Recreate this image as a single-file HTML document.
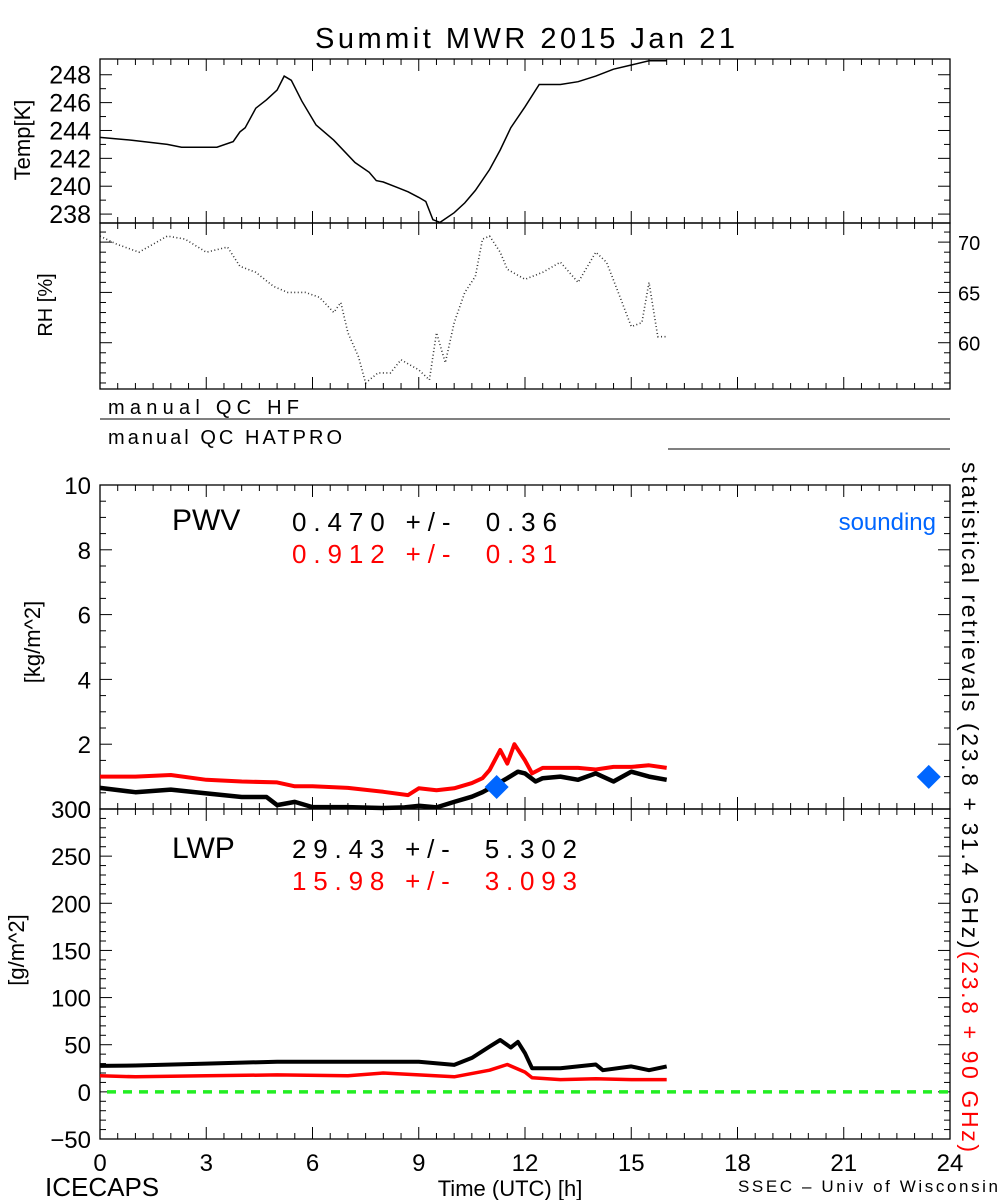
<!DOCTYPE html>
<html><head><meta charset="utf-8"><style>
html,body{margin:0;padding:0;background:#fff;}
svg{display:block;font-family:"Liberation Sans",sans-serif;}
</style></head><body>
<svg id="c" width="1000" height="1200" viewBox="0 0 1000 1200">
<text x="315" y="48" font-size="29" textLength="420" lengthAdjust="spacing">Summit MWR 2015 Jan 21</text>
<text x="108" y="414" font-size="20" textLength="191" lengthAdjust="spacing">manual QC HF</text>
<line x1="100" y1="419" x2="950" y2="419" stroke="#000"/>
<text x="108" y="444" font-size="20" textLength="234" lengthAdjust="spacing">manual QC HATPRO</text>
<line x1="668" y1="449" x2="950" y2="449" stroke="#000"/>
<text x="172" y="530" font-size="30">PWV</text>
<text x="292" y="531" font-size="26" textLength="265" lengthAdjust="spacing" style="white-space:pre">0.470 +/-  0.36</text>
<text x="292" y="563" font-size="26" fill="#f00" textLength="265" lengthAdjust="spacing" style="white-space:pre">0.912 +/-  0.31</text>
<text x="936" y="530" font-size="24" fill="#0066ff" text-anchor="end">sounding</text>
<text x="172" y="858" font-size="30">LWP</text>
<text x="292" y="858" font-size="26" textLength="285" lengthAdjust="spacing" style="white-space:pre">29.43 +/-  5.302</text>
<text x="292" y="890" font-size="26" fill="#f00" textLength="285" lengthAdjust="spacing" style="white-space:pre">15.98 +/-  3.093</text>
<text transform="translate(30,140) rotate(-90)" font-size="22" text-anchor="middle">Temp[K]</text>
<text transform="translate(52,305) rotate(-90)" font-size="20" text-anchor="middle">RH [%]</text>
<text transform="translate(40,642) rotate(-90)" font-size="22" text-anchor="middle">[kg/m^2]</text>
<text transform="translate(24,950) rotate(-90)" font-size="22" text-anchor="middle">[g/m^2]</text>
<text transform="translate(962,462) rotate(90)" font-size="23" textLength="690" lengthAdjust="spacing"><tspan>statistical retrievals (23.8 + 31.4 GHz)</tspan><tspan fill="#f00">(23.8 + 90 GHz)</tspan></text>
<text x="45" y="1196" font-size="26">ICECAPS</text>
<text x="510" y="1196" font-size="22" text-anchor="middle">Time (UTC) [h]</text>
<text x="738" y="1192" font-size="17" textLength="260" lengthAdjust="spacing">SSEC – Univ of Wisconsin</text>
</svg>
<script>
const tempT=[0,0.9,1.9,2.3,3.3,3.76,3.95,4.1,4.4,4.7,5.0,5.2,5.4,5.7,6.1,6.6,7.2,7.6,7.8,8.0,8.4,8.7,9.0,9.2,9.4,9.6,10,10.3,10.6,11,11.3,11.6,12,12.4,13,13.5,14,14.5,15,15.5,16];
const tempV=[243.5,243.3,243.0,242.8,242.8,243.2,243.9,244.2,245.6,246.2,246.9,247.9,247.6,246.1,244.4,243.3,241.7,241.0,240.4,240.3,239.9,239.6,239.2,238.9,237.6,237.4,238.1,238.8,239.7,241.2,242.6,244.2,245.7,247.3,247.3,247.5,247.9,248.4,248.7,249.0,249.0];
const rhT=[0,0.47,1.1,1.9,2.4,3,3.6,3.95,4.4,4.9,5.3,5.8,6.2,6.6,6.8,7.0,7.3,7.5,7.85,8.2,8.5,9,9.3,9.5,9.75,10,10.3,10.6,10.8,11,11.3,11.5,12,12.5,13,13.5,14,14.3,14.6,15,15.3,15.5,15.75,16];
const rhV=[70.6,69.8,69,70.6,70.3,69,69.5,67.6,67,65.6,65,65,64.5,63,64,61,58.6,56,57,57,58.3,57.3,56.3,61,58,62,65,66.6,70.3,70.6,69,67.3,66.3,67,68,66,69,68,65.3,61.6,62,66,60.6,60.6];
const pwvT=[0,1,2,3,4,4.7,5,5.5,6,7,8,8.6,9,9.5,10,10.5,10.8,11,11.5,11.8,12,12.3,12.5,13,13.5,14,14.5,15,15.5,16];
const pwvBlack=[0.65,0.52,0.6,0.48,0.37,0.37,0.12,0.22,0.06,0.06,0.03,0.05,0.1,0.05,0.22,0.38,0.52,0.64,0.95,1.15,1.1,0.85,0.95,1.0,0.9,1.1,0.85,1.15,1.0,0.9];
const pwvRedT=[0,1,2,3,4,5,5.5,6,7,8,8.7,9,9.5,10,10.5,10.8,11,11.3,11.5,11.7,12,12.2,12.5,13,13.5,14,14.5,15,15.5,16];
const pwvRed=[1.0,1.0,1.05,0.9,0.85,0.82,0.7,0.7,0.65,0.53,0.43,0.64,0.58,0.64,0.8,0.95,1.2,1.82,1.4,2.0,1.5,1.1,1.27,1.27,1.27,1.22,1.3,1.3,1.35,1.27];
const soundT=[11.2,23.4];
const soundV=[0.68,0.99];
const lwpT=[0,1,3,5,7,8,9,10,10.5,11,11.3,11.6,11.8,12,12.2,13,14,14.2,15,15.5,16];
const lwpBlack=[27.5,28,30,32,32,32,32,28.6,36,48,55,47,53,41,25,25,29,23,27,23,27];
const lwpRedT=[0,1,3,5,7,8,9,10,11,11.5,12,12.2,13,14,15,16];
const lwpRed=[17,16,17,18,17,20,18,16,23,29,21,15,13,14,13,13];
const tempTicks=[238,240,242,244,246,248];
const rhTicks=[60,65,70];
const pwvTicks=[0,2,4,6,8,10];
const lwpTicks=[-50,0,50,100,150,200,250,300];
const timeTicks=[0,3,6,9,12,15,18,21,24];

const svg=document.getElementById('c');
const NS='http://www.w3.org/2000/svg';
const X0=100,X1=950;
const xs=t=>X0+(t/24)*(X1-X0);
function lin(d0,d1,p0,p1){return v=>p0+(v-d0)/(d1-d0)*(p1-p0);}
const P={
 temp:{top:59,bot:223,y:lin(237.36,249.13,223,59)},
 rh:{top:223,bot:389,y:lin(55.4,71.9,389,223)},
 pwv:{top:485,bot:809,y:lin(0,10,809,485)},
 lwp:{top:809,bot:1139,y:lin(-50,300,1139,809)}
};
function mk(tag,attrs){const e=document.createElementNS(NS,tag);for(const k in attrs)e.setAttribute(k,attrs[k]);svg.appendChild(e);return e;}
function pathOf(T,V,y){return T.map((t,i)=>(i?'L':'M')+xs(t).toFixed(1)+' '+y(V[i]).toFixed(1)).join(' ');}

for(const k in P){const p=P[k];
 const r=mk('rect',{x:X0,y:p.top,width:X1-X0,height:p.bot-p.top,fill:'none',stroke:'#000','stroke-width':1.3});
 
 
 for(let t=0;t<=24;t+=0.5){const maj=(t%3===0);const L=maj?12:6;
  const a=mk('line',{x1:xs(t),x2:xs(t),y1:p.bot,y2:p.bot-L,stroke:'#000'});
  
  
  const b=mk('line',{x1:xs(t),x2:xs(t),y1:p.top,y2:p.top+L,stroke:'#000'});
  
  
 }
}
function yTicks(p,lo,hi,minor,major,left,right){
 for(let v=lo;v<=hi+1e-9;v+=minor){const isMaj=Math.abs(v/major-Math.round(v/major))<1e-6;const L=isMaj?12:6;const y=p.y(v);
  if(y<p.top-0.5||y>p.bot+0.5)continue;
  if(left){const a=mk('line',{x1:X0,x2:X0+L,y1:y,y2:y,stroke:'#000'});
   
   }
  if(right){const b=mk('line',{x1:X1,x2:X1-L,y1:y,y2:y,stroke:'#000'});
   
   }
 }
}
yTicks(P.temp,238,248,1,2,true,true);
yTicks(P.rh,56,71,1,5,true,true);
yTicks(P.pwv,0,10,0.5,2,true,true);
yTicks(P.lwp,-50,300,10,50,true,true);

function label(x,y,s,anchor,size,name){const e=mk('text',{x:x,y:y,'font-size':size,'text-anchor':anchor});e.textContent=s;
 
 }
tempTicks.forEach(v=>label(91,P.temp.y(v)+9,String(v),'end',25,'temp-tick-label'));
rhTicks.forEach(v=>label(958,P.rh.y(v)+8,String(v),'start',20,'rh-tick-label'));
pwvTicks.forEach(v=>label(91,P.pwv.y(v)+9,String(v),'end',24,'pwv-tick-label'));
lwpTicks.forEach(v=>label(91,P.lwp.y(v)+9,v<0?'\u2212'+(-v):String(v),'end',24,'lwp-tick-label'));
timeTicks.forEach(t=>label(xs(t),1171,String(t),'middle',24,'time-tick-label'));

const z=mk('line',{x1:X0+7,x2:X1,y1:P.lwp.y(0),y2:P.lwp.y(0),stroke:'#22ee22','stroke-width':3.5,'stroke-dasharray':'9 7'});



let e=mk('path',{d:pathOf(tempT,tempV,P.temp.y),fill:'none',stroke:'#000','stroke-width':1.5});


e=mk('path',{d:pathOf(rhT,rhV,P.rh.y),fill:'none',stroke:'#000','stroke-width':1.6,'stroke-dasharray':'1 2.5',opacity:0.8});


e=mk('path',{d:pathOf(pwvRedT,pwvRed,P.pwv.y),fill:'none',stroke:'#f00','stroke-width':4,'stroke-linejoin':'round'});


e=mk('path',{d:pathOf(pwvT,pwvBlack,P.pwv.y),fill:'none',stroke:'#000','stroke-width':4.5,'stroke-linejoin':'round'});


soundT.forEach((t,i)=>{const cx=xs(t),cy=P.pwv.y(soundV[i]),r=12;
 const d=mk('polygon',{points:`${cx},${cy-r} ${cx+r},${cy} ${cx},${cy+r} ${cx-r},${cy}`,fill:'#0066ff'});
 
 
});
e=mk('path',{d:pathOf(lwpT,lwpBlack,P.lwp.y),fill:'none',stroke:'#000','stroke-width':4,'stroke-linejoin':'round'});


e=mk('path',{d:pathOf(lwpRedT,lwpRed,P.lwp.y),fill:'none',stroke:'#f00','stroke-width':3.5,'stroke-linejoin':'round'});


</script>
</body></html>
